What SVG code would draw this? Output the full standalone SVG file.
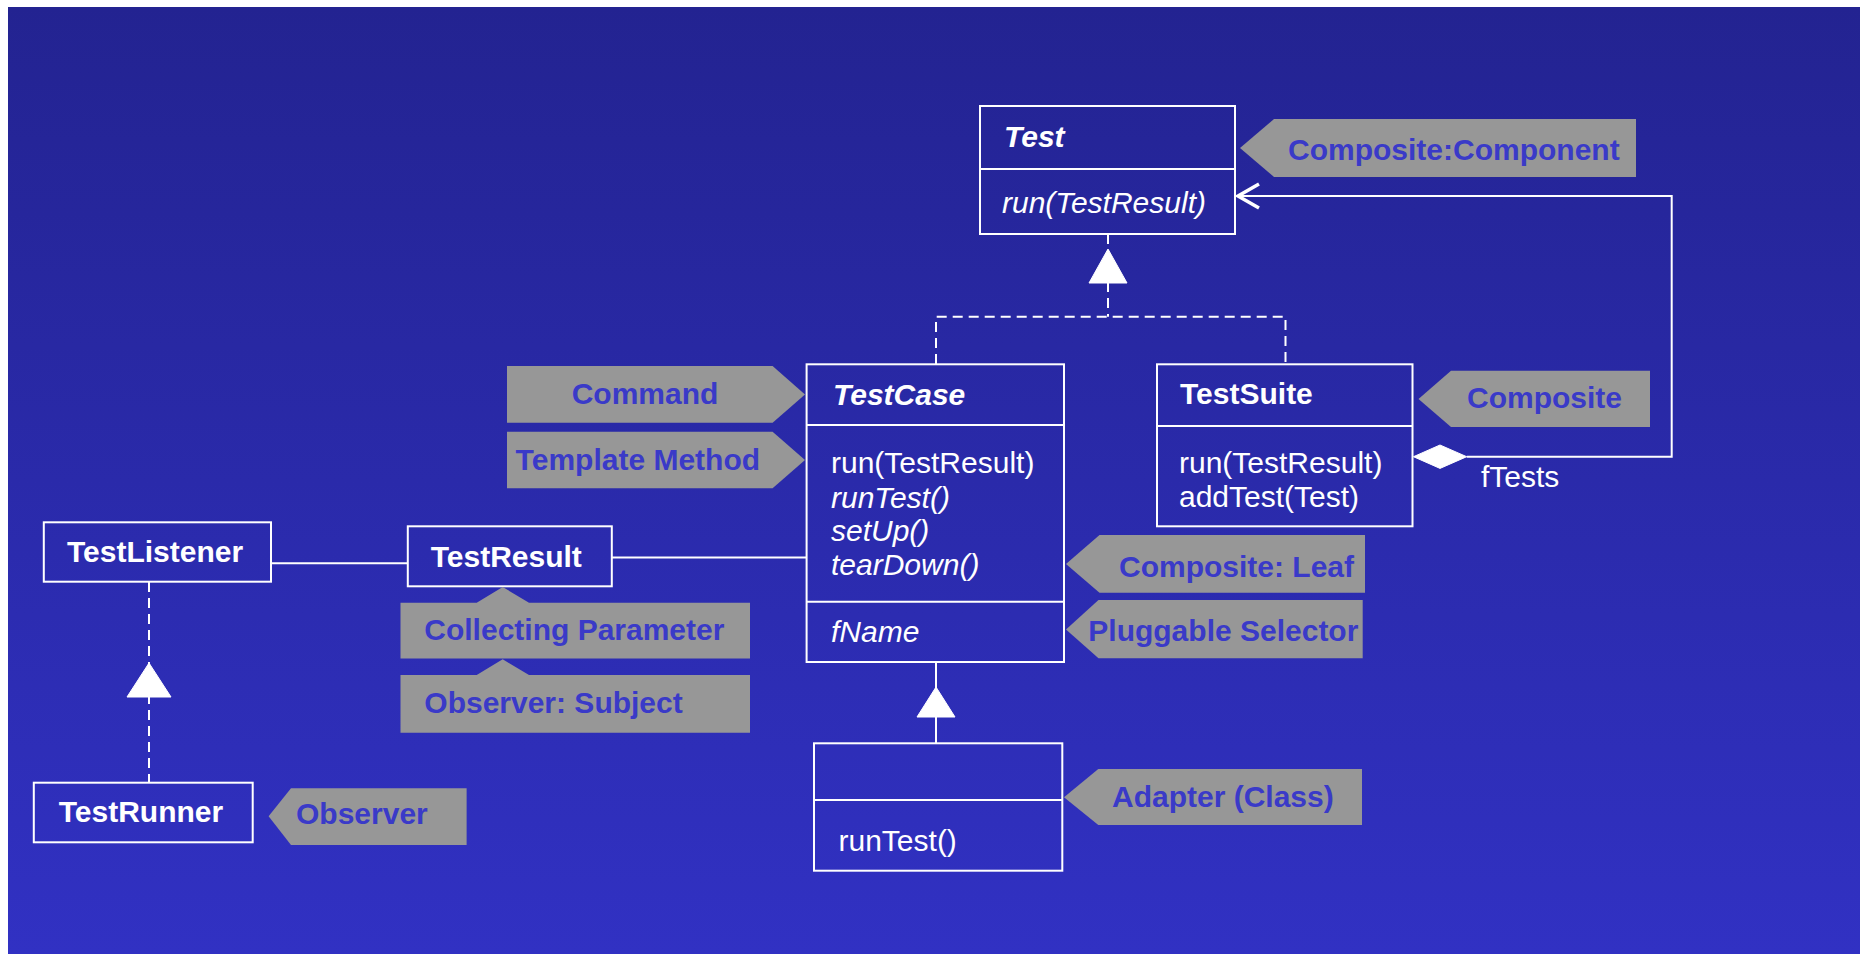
<svg xmlns="http://www.w3.org/2000/svg" width="1860" height="954" viewBox="0 0 1860 954">
<defs>
<linearGradient id="bg" x1="0" y1="0" x2="0" y2="1">
<stop offset="0" stop-color="#232391"/>
<stop offset="1" stop-color="#3131c3"/>
</linearGradient>
<style>
.box{fill:none;stroke:#fff;stroke-width:2}
.ln{fill:none;stroke:#fff;stroke-width:2}
.head{fill:none;stroke:#fff;stroke-width:3.5;stroke-linejoin:miter}
.dash{fill:none;stroke:#fff;stroke-width:2;stroke-dasharray:10 6}
.tri{fill:#fff;stroke:#fff;stroke-width:1}
.tag{fill:#979797}
.t{font-family:"Liberation Sans",Arial,sans-serif;font-size:30px;fill:#fff}
.b{font-weight:bold}
.i{font-style:italic}
.lt{font-family:"Liberation Sans",Arial,sans-serif;font-size:30px;font-weight:bold;fill:#3a3ac8}
</style>
</defs>
<rect x="0" y="0" width="1860" height="954" fill="#fff"/>
<rect x="8" y="7" width="1852" height="947" fill="url(#bg)"/>

<g id="connectors">
<!-- realization TestCase/TestSuite -> Test -->
<path class="dash" d="M1108,234 V316.7 M936,364 V316.7 H1285.5 V364"/>
<polygon class="tri" points="1108,249 1089,283 1127,283"/>
<!-- TestRunner -> TestListener -->
<path class="dash" d="M149,582 V782.7"/>
<polygon class="tri" points="149,663 127,697 171,697"/>
<!-- Adapter subclass -> TestCase -->
<path class="ln" d="M936,662 V743.3"/>
<polygon class="tri" points="936,687 917,717 955,717"/>
<!-- associations -->
<path class="ln" d="M271,563.3 H408"/>
<path class="ln" d="M612,557.5 H806.6"/>
<!-- fTests aggregation -->
<path class="ln" d="M1466.7,456.7 H1671.7 V196 H1238"/>
<path class="head" d="M1259,184 L1238,196 L1259,208"/>
<polygon class="tri" points="1413.5,456.7 1440,445 1466.7,456.7 1440,468.4"/>
<text class="t" x="1481" y="487">fTests</text>
</g>

<g id="Test">
<rect class="box" x="980" y="106" width="255" height="128"/>
<line class="ln" x1="980" y1="169" x2="1235" y2="169"/>
<text class="t b i" x="1004" y="147">Test</text>
<text class="t i" x="1002" y="213">run(TestResult)</text>
</g>

<g id="TestCase">
<rect class="box" x="806.6" y="364.3" width="257.4" height="297.7"/>
<line class="ln" x1="806.6" y1="425" x2="1064" y2="425"/>
<line class="ln" x1="806.6" y1="601.7" x2="1064" y2="601.7"/>
<text class="t b i" x="833" y="405">TestCase</text>
<text class="t" x="831" y="472.7">run(TestResult)</text>
<text class="t i" x="831" y="507.7">runTest()</text>
<text class="t i" x="831" y="541">setUp()</text>
<text class="t i" x="831" y="575">tearDown()</text>
<text class="t i" x="831" y="641.7">fName</text>
</g>

<g id="TestSuite">
<rect class="box" x="1157" y="364.3" width="255.5" height="162"/>
<line class="ln" x1="1157" y1="426" x2="1412.5" y2="426"/>
<text class="t b" x="1180" y="404.3">TestSuite</text>
<text class="t" x="1179" y="472.7">run(TestResult)</text>
<text class="t" x="1179" y="506.7">addTest(Test)</text>
</g>

<g id="TestListener">
<rect class="box" x="43.8" y="522.3" width="227.2" height="59.4"/>
<text class="t b" x="67" y="562.3">TestListener</text>
</g>

<g id="TestResult">
<rect class="box" x="407.8" y="526.3" width="204" height="60"/>
<text class="t b" x="430.7" y="567">TestResult</text>
</g>

<g id="TestRunner">
<rect class="box" x="33.8" y="782.7" width="218.9" height="59.6"/>
<text class="t b" x="58.7" y="822.3">TestRunner</text>
</g>

<g id="AdapterClass">
<rect class="box" x="814" y="743.3" width="248.3" height="127.4"/>
<line class="ln" x1="814" y1="800" x2="1062.3" y2="800"/>
<text class="t" x="838.5" y="850.7">runTest()</text>
</g>

<g id="tag-composite-component">
<polygon class="tag" points="1240,148 1274,119 1636,119 1636,177 1274,177"/>
<text class="lt" x="1288" y="160">Composite:Component</text>
</g>
<g id="tag-command">
<polygon class="tag" points="507,366 772.6,366 805,394.4 772.6,422.7 507,422.7"/>
<text class="lt" x="571.7" y="404.3">Command</text>
</g>
<g id="tag-template-method">
<polygon class="tag" points="507,431.7 772.6,431.7 805,460 772.6,488.3 507,488.3"/>
<text class="lt" x="515.6" y="470">Template Method</text>
</g>
<g id="tag-composite">
<polygon class="tag" points="1418.5,399 1451,370.7 1650,370.7 1650,427 1451,427"/>
<text class="lt" x="1467" y="408.3">Composite</text>
</g>
<g id="tag-composite-leaf">
<polygon class="tag" points="1066,564 1099.5,535 1365,535 1365,592.7 1099.5,592.7"/>
<text class="lt" x="1119" y="577.3">Composite: Leaf</text>
</g>
<g id="tag-pluggable-selector">
<polygon class="tag" points="1066,629.5 1098.5,600 1362.7,600 1362.7,658.3 1098.5,658.3"/>
<text class="lt" x="1088.3" y="640.7">Pluggable Selector</text>
</g>
<g id="tag-collecting-parameter">
<polygon class="tag" points="400.5,602.7 476.7,602.7 502.7,587 529,602.7 750,602.7 750,658.5 400.5,658.5"/>
<text class="lt" x="424.3" y="640">Collecting Parameter</text>
</g>
<g id="tag-observer-subject">
<polygon class="tag" points="400.5,675 476.7,675 502.7,659.3 529,675 750,675 750,732.7 400.5,732.7"/>
<text class="lt" x="424.3" y="712.5">Observer: Subject</text>
</g>
<g id="tag-observer">
<polygon class="tag" points="268.6,816.3 291,788.3 466.6,788.3 466.6,845 291,845"/>
<text class="lt" x="296" y="824">Observer</text>
</g>
<g id="tag-adapter">
<polygon class="tag" points="1064,797.3 1098.3,769 1362,769 1362,825 1098.3,825"/>
<text class="lt" x="1112" y="806.7">Adapter (Class)</text>
</g>
</svg>
